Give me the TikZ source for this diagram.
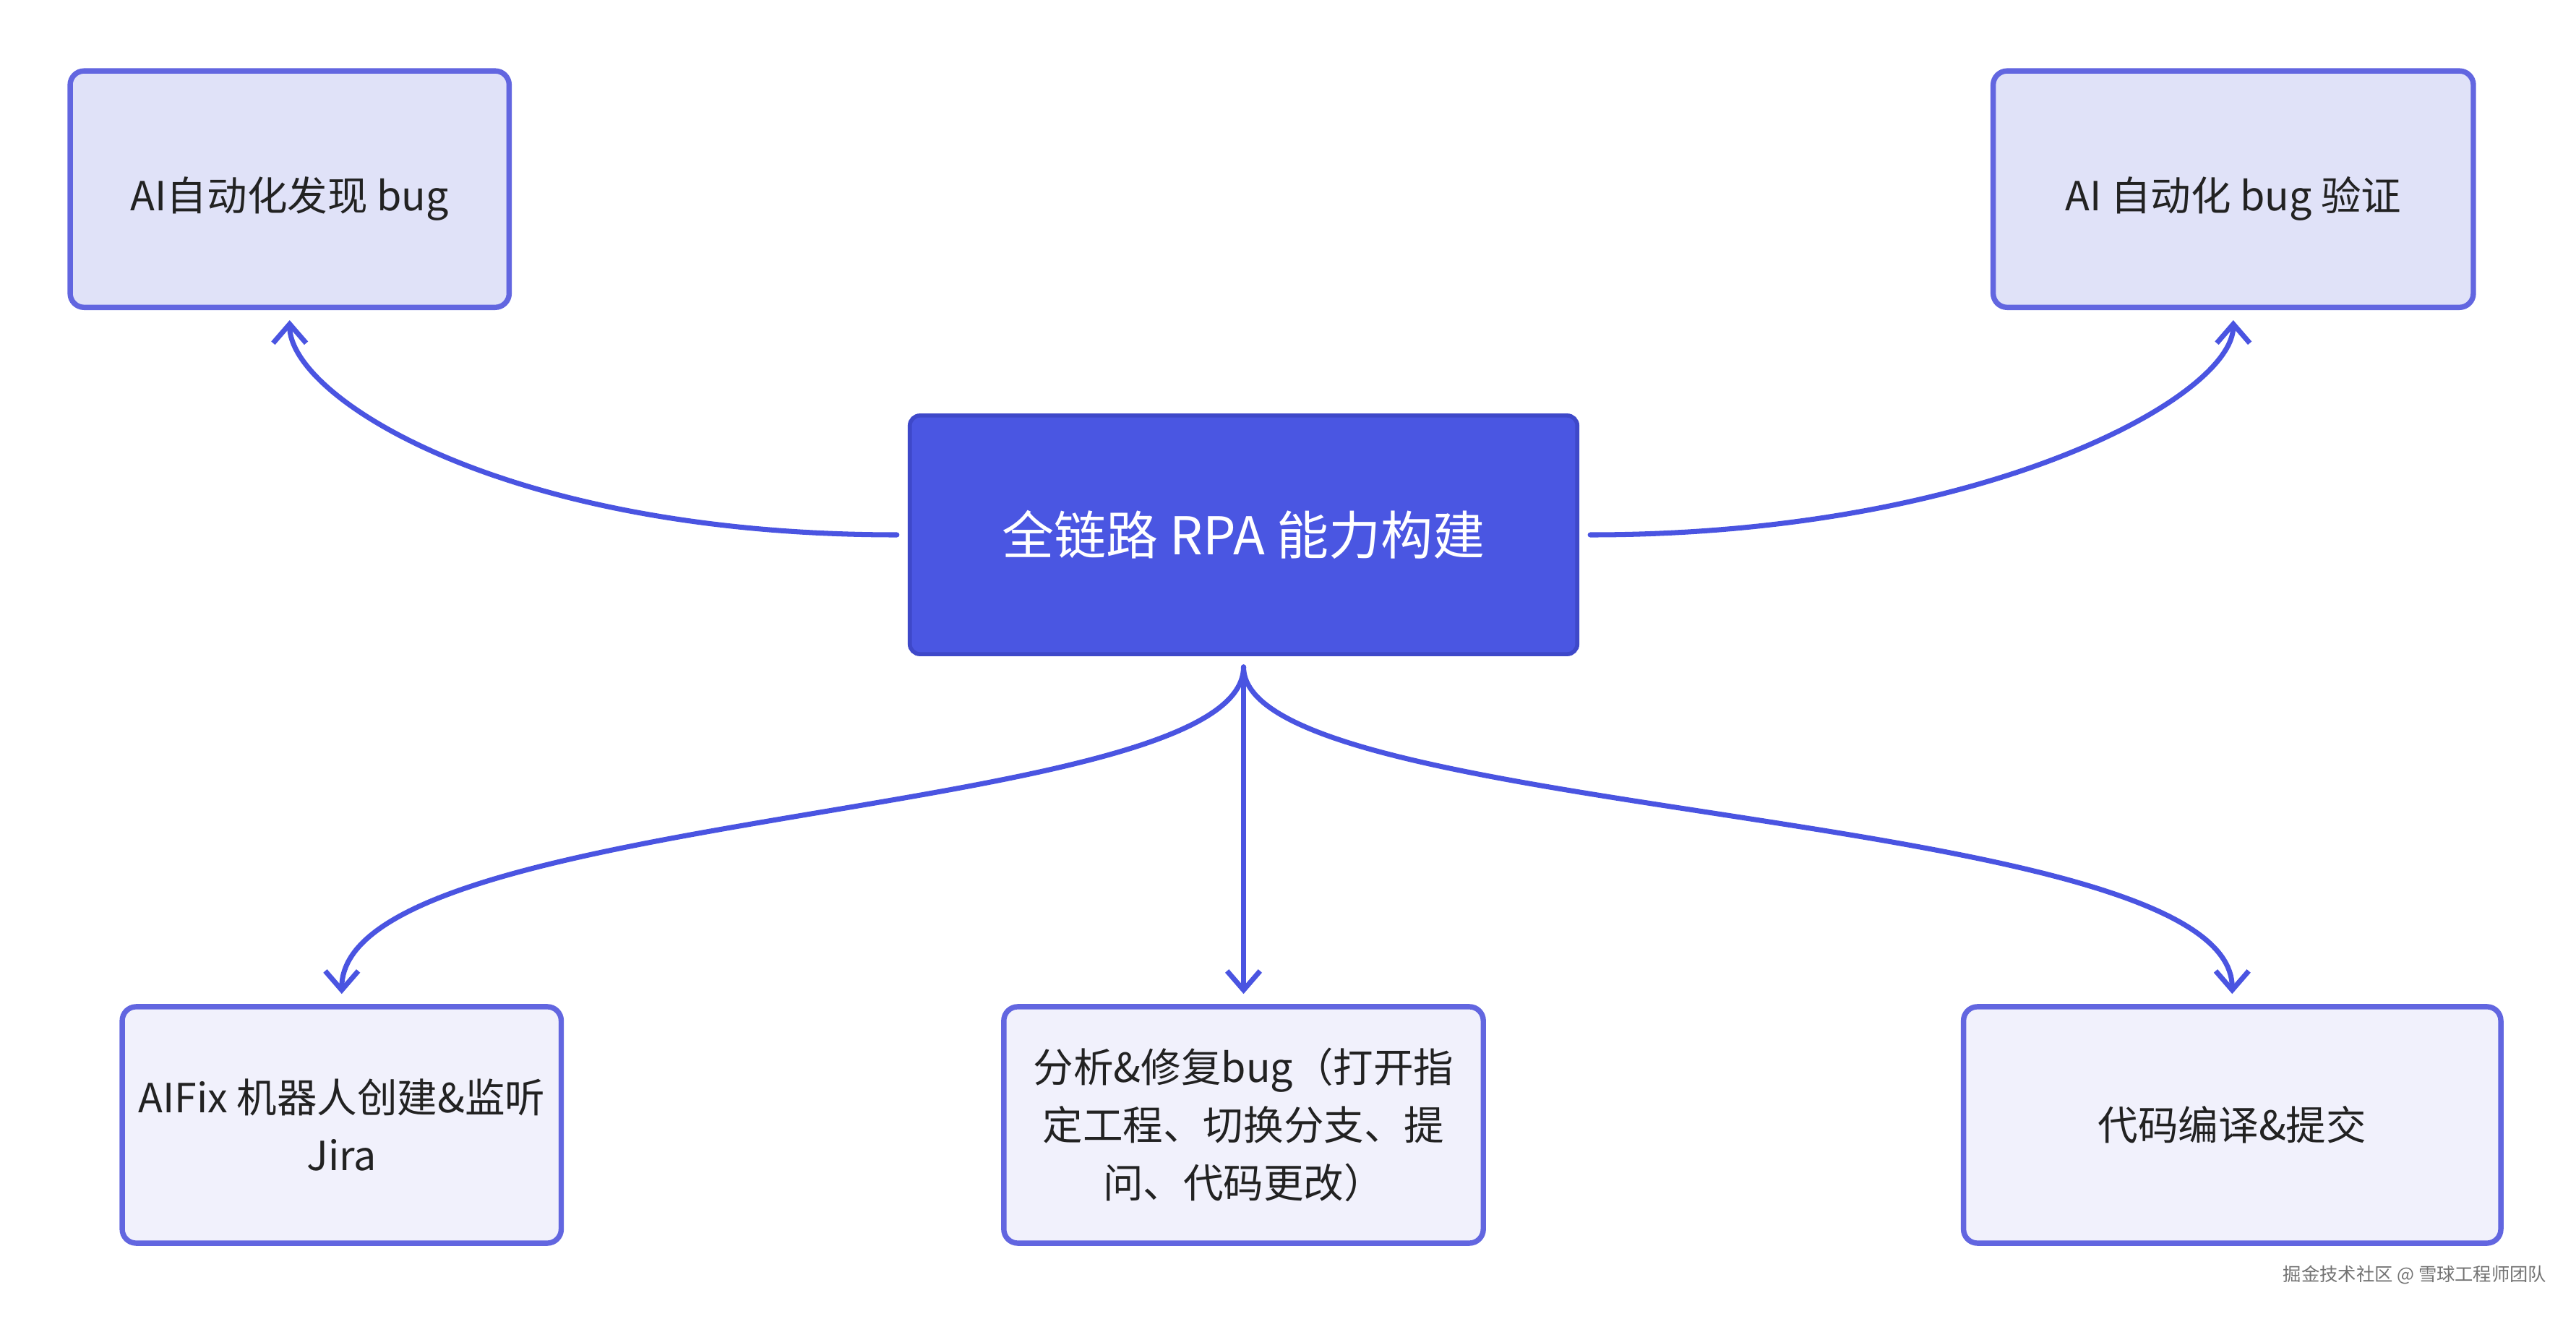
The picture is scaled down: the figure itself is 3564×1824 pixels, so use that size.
\documentclass[tikz,border=0pt]{standalone}
\usepackage{fontspec}
\setmainfont{Noto Sans CJK SC}
\usetikzlibrary{positioning, arrows.meta}

\definecolor{hubblue}{HTML}{4A56E2}
\definecolor{hubedge}{HTML}{3E48C9}
\definecolor{leafedge}{HTML}{6266E0}
\definecolor{leaftop}{HTML}{E0E2F8}
\definecolor{leafbot}{HTML}{F1F1FC}
\definecolor{linkblue}{HTML}{4A54E1}
\definecolor{ink}{HTML}{222222}

\begin{document}
\begin{tikzpicture}[
x=0.01cm, y=-0.01cm,
leaf/.style={rectangle, rounded corners=5.5pt, draw=leafedge, line width=2.1pt, minimum height=3.27cm, text=ink, align=center, font=\fontsize{15.8}{22.7}\selectfont},
lowtext/.style={text height=20pt, text depth=3pt},
hub/.style={rectangle, rounded corners=4pt, draw=hubedge, fill=hubblue, line width=1.6pt, minimum width=9.23cm, minimum height=3.3cm, text=white, font=\fontsize{20.5}{26}\selectfont},
link/.style={draw=linkblue, line width=2pt, line cap=round, -{Straight Barb[length=7.5pt,width=13pt]}, shorten <=0.15cm, shorten >=0.14cm},
credit/.style={text=black!55, font=\fontsize{7.2}{9}\selectfont},
]

\useasboundingbox (0,0) rectangle (3564,1824);

\node[hub]                                (rpa)    at (1720.5,740)                          {全链路 RPA 能力构建};

\node[leaf, lowtext, fill=leaftop, minimum width=6.07cm] (find)   [above=1.43cm of rpa, xshift=-13.19cm]  {AI自动化发现 bug};
\node[leaf, lowtext, fill=leaftop, minimum width=6.64cm] (verify) [above=1.43cm of rpa, xshift=13.685cm]  {AI 自动化 bug 验证};

\node[leaf, fill=leafbot, minimum width=6.07cm] (jira)   [below=4.81cm of rpa, xshift=-12.47cm]  {AIFix 机器人创建\&监听\\Jira};
\node[leaf, fill=leafbot, minimum width=6.63cm] (fix)    [below=4.81cm of rpa]                   {分析\&修复bug（打开指\\定工程、切换分支、提\\问、代码更改）};
\node[leaf, fill=leafbot, minimum width=7.43cm] (commit) [below=4.81cm of rpa, xshift=13.67cm]   {代码编译\&提交};

\node[credit] (wm) at (3341,1764) {掘金技术社区 @ 雪球工程师团队};

% upper branches
\draw[link] (rpa.west) .. controls +(-560,0) and +(0,120) .. (find.south);
\draw[link] (rpa.east) .. controls +(560,0) and +(0,120) .. (verify.south);

% lower branches
\draw[link] (rpa.south) .. controls +(0,228) and +(0,-274) .. (jira.north);
\draw[link] (rpa.south) -- (fix.north);
\draw[link] (rpa.south) .. controls +(0,228) and +(0,-274) .. (commit.north);

\end{tikzpicture}
\end{document}
